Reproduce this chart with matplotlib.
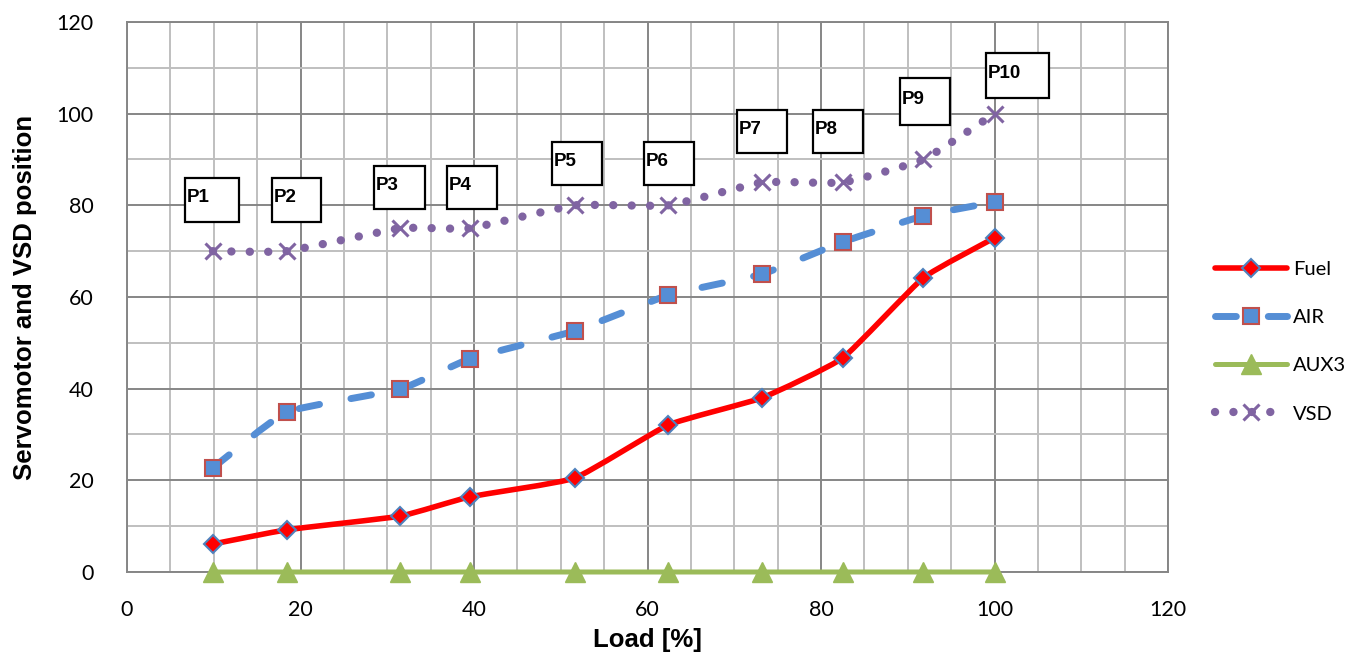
import matplotlib
matplotlib.use("Agg")
import matplotlib.pyplot as plt
import numpy as np
from matplotlib.path import Path
from matplotlib.patches import PathPatch, Rectangle
from matplotlib.lines import Line2D

# load points
load = [9.9, 18.4, 31.5, 39.5, 51.6, 62.4, 73.2, 82.5, 91.8, 100.0]
fuel = [6.1, 9.2, 12.2, 16.4, 20.5, 32.1, 38.0, 46.7, 64.2, 72.9]
air = [22.7, 34.9, 39.9, 46.5, 52.6, 60.4, 65.0, 72.0, 77.7, 80.7]
aux3 = [0, 0, 0, 0, 0, 0, 0, 0, 0, 0]
vsd = [70, 70, 75, 75, 80, 80, 85, 85, 90, 100]
point_names = ["P1", "P2", "P3", "P4", "P5", "P6", "P7", "P8", "P9", "P10"]

# label box layout (left, bottom, width, height) in data units
boxes = [(6.7, 76.4, 6.2, 9.6), (16.7, 76.4, 5.7, 9.6), (28.5, 79.2, 5.8, 9.4),
         (36.9, 79.2, 5.7, 9.4), (49.0, 84.4, 5.7, 9.4), (59.6, 84.4, 5.7, 9.4),
         (70.3, 91.4, 5.8, 9.4), (79.1, 91.4, 5.7, 9.4), (89.1, 97.5, 5.8, 10.3),
         (99.0, 103.4, 7.3, 9.8)]


def smooth_path(x, y, k=0.07):
    """Gently smoothed line (cubic bezier through the points)."""
    pts = np.column_stack([x, y]).astype(float)
    n = len(pts)
    verts = [pts[0]]
    codes = [Path.MOVETO]
    for i in range(n - 1):
        p0 = pts[i - 1] if i > 0 else pts[i]
        p1 = pts[i]
        p2 = pts[i + 1]
        p3 = pts[i + 2] if i + 2 < n else pts[i + 1]
        verts += [p1 + (p2 - p0) * k, p2 - (p3 - p1) * k, p2]
        codes += [Path.CURVE4] * 3
    return Path(verts, codes)


fig = plt.figure(figsize=(13.46, 6.58), dpi=100)
ax = fig.add_axes([0.0944, 0.1307, 0.7734, 0.8359])

ax.set_xlim(0, 120)
ax.set_ylim(0, 120)
ax.set_xticks(np.arange(0, 121, 20))
ax.set_yticks(np.arange(0, 121, 20))
ax.set_xticks(np.arange(0, 121, 5), minor=True)
ax.set_yticks(np.arange(0, 121, 10), minor=True)
ax.grid(which="minor", color="#bfbfbf", lw=1.4, zorder=0)
ax.grid(which="major", color="#868686", lw=1.4, zorder=0)
ax.set_axisbelow(True)
ax.tick_params(which="both", length=0)
ax.tick_params(axis="x", pad=20)
ax.tick_params(axis="y", pad=24)
for lab in ax.get_xticklabels() + ax.get_yticklabels():
    lab.set_fontfamily("Lato")
    lab.set_fontsize(15.5)
for s in ax.spines.values():
    s.set_color("#868686")
    s.set_linewidth(1.4)

series = [
    dict(y=fuel, label="Fuel", color="#ff0000", lw=4, ls="-", marker="D", ms=9.5,
         mfc="#ff0000", mec="#4f81bd", mew=1.5),
    dict(y=air, label="AIR", color="#558ed5", lw=5, ls=(0, (3, 4.6)), marker="s", ms=12,
         mfc="#558ed5", mec="#c0504d", mew=1.5),
    dict(y=aux3, label="AUX3", color="#9bbb59", lw=3.6, ls="-", marker="^", ms=15,
         mfc="#9bbb59", mec="#9bbb59", mew=1),
    dict(y=vsd, label="VSD", color="#8064a2", lw=6, ls=(0, (0.01, 2.2)), marker="x", ms=12,
         mfc="#8064a2", mec="#8064a2", mew=2.2),
]

handles = []
for k, s in enumerate(series):
    patch = PathPatch(smooth_path(load, s["y"]), fill=False, edgecolor=s["color"],
                      lw=s["lw"], linestyle=s["ls"], capstyle="round", joinstyle="round",
                      zorder=3 + k, clip_on=False)
    ax.add_patch(patch)
    ax.plot(load, s["y"], linestyle="none", marker=s["marker"], ms=s["ms"],
            mfc=s["mfc"], mec=s["mec"], mew=s["mew"], zorder=3.5 + k, clip_on=False)
    h = Line2D([], [], color=s["color"], lw=s["lw"], linestyle=s["ls"],
               dash_capstyle="round", solid_capstyle="round",
               marker=s["marker"], ms=s["ms"], mfc=s["mfc"], mec=s["mec"], mew=s["mew"])
    handles.append(h)

for name, (bx, by, bw, bh) in zip(point_names, boxes):
    ax.add_patch(Rectangle((bx, by), bw, bh, facecolor="white", edgecolor="black",
                           lw=1.6, zorder=10, clip_on=False))
    ax.text(bx + 0.2, by + bh * 0.55, name, fontsize=13.5, fontweight="bold",
            family="Liberation Sans", ha="left", va="center", zorder=11)

ax.set_xlabel("Load [%]", fontsize=18.5, fontweight="bold", family="Liberation Sans", labelpad=6)
ax.set_ylabel("Servomotor and VSD position", fontsize=18.5, fontweight="bold",
              family="Liberation Sans", labelpad=14)

fig.legend(handles, [s["label"] for s in series], loc="center left",
           bbox_to_anchor=(0.895, 0.481), frameon=False, borderpad=0,
           handlelength=3.6, handletextpad=0.3, labelspacing=1.55,
           prop={"family": "Lato", "size": 14.5})

fig.savefig("out.png", dpi=100)
